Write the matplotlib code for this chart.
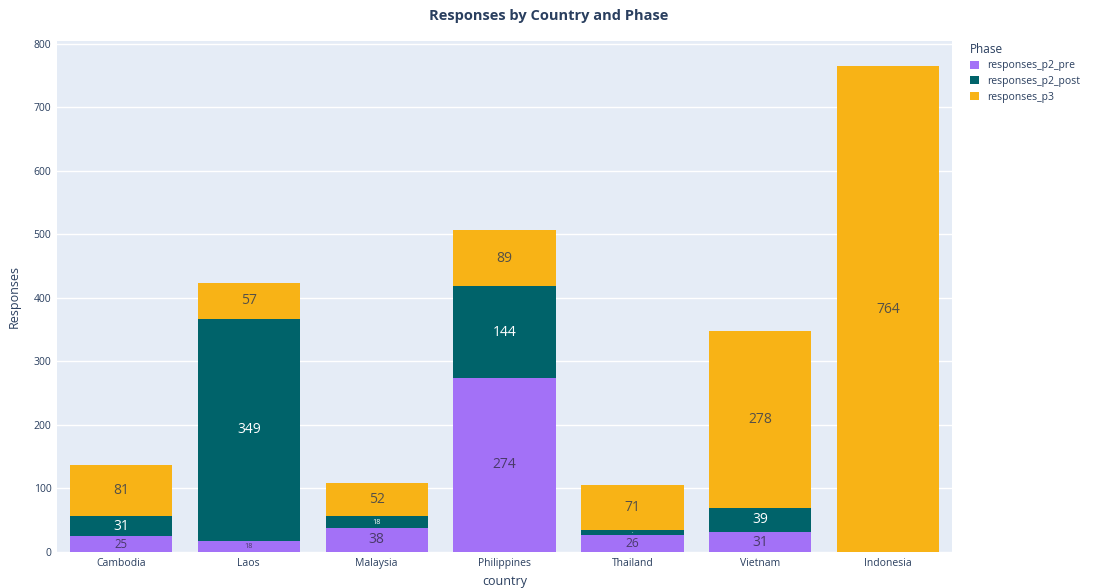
import numpy as np
import matplotlib.pyplot as plt

plt.rcParams['font.family'] = ['Open Sans', 'DejaVu Sans']

# 数据
countries = ['Cambodia', 'Laos', 'Malaysia', 'Philippines', 'Thailand', 'Vietnam', 'Indonesia']
p2_pre = [25, 18, 38, 274, 26, 31, 0]
p2_post = [31, 349, 18, 144, 8, 39, 0]
p3 = [81, 57, 52, 89, 71, 278, 764]
series_names = ['responses_p2_pre', 'responses_p2_post', 'responses_p3']

colors = ['#a371f7', '#00636a', '#f8b316']
text_colors = ['#4a3a6a', 'white', '#555047']
text_c = '#2a3f5f'

W, H, DPI = 1098, 588, 100
fig = plt.figure(figsize=(W / DPI, H / DPI), dpi=DPI)
ax = fig.add_axes([57 / W, 1 - 552 / H, (952 - 57) / W, (552 - 41) / H])
ax.set_facecolor('#e5ecf6')

ymax = 804
ax.set_xlim(-0.5, len(countries) - 0.5)
ax.set_ylim(0, ymax)
px_per_unit = (552 - 41) / ymax

x = np.arange(len(countries))
bottom = np.zeros(len(countries))
for vals, name, col, tcol in zip([p2_pre, p2_post, p3], series_names, colors, text_colors):
    vals = np.array(vals, dtype=float)
    ax.bar(x, vals, 0.8, bottom=bottom, color=col, label=name, zorder=2)
    for xi, v, b in zip(x, vals, bottom):
        if v <= 0:
            continue
        # 小柱子里的文字缩小
        h_px = v * px_per_unit
        fs = min(10, (h_px - 4) * 0.7)
        if fs < 1.5:
            fs = 1.5
        ax.text(xi, b + v / 2, str(int(v)), ha='center', va='center',
                fontsize=fs, color=tcol, zorder=3)
    bottom += vals

ax.set_xticks(x)
ax.set_xticklabels(countries)
ax.set_yticks(range(0, 801, 100))
ax.grid(axis='y', color='white', linewidth=1, zorder=0)
ax.tick_params(length=0, labelsize=7.5, labelcolor=text_c, pad=4)
for s in ax.spines.values():
    s.set_visible(False)

ax.set_xlabel('country', fontsize=9, color=text_c, labelpad=5)
ax.set_ylabel('Responses', fontsize=9, color=text_c, labelpad=9)
fig.suptitle('Responses by Country and Phase', x=0.5, y=1 - 16 / H, va='center',
             fontsize=10.5, fontweight='bold', color=text_c)

leg = ax.legend(title='Phase', loc='upper left', bbox_to_anchor=(1.01, 1.015),
                frameon=False, fontsize=7.5, title_fontsize=8.5,
                handlelength=0.8, handleheight=0.8, labelspacing=0.45)
leg._legend_box.align = 'left'
for t in leg.get_texts():
    t.set_color(text_c)
leg.get_title().set_color(text_c)

plt.savefig('out.png', dpi=DPI)
